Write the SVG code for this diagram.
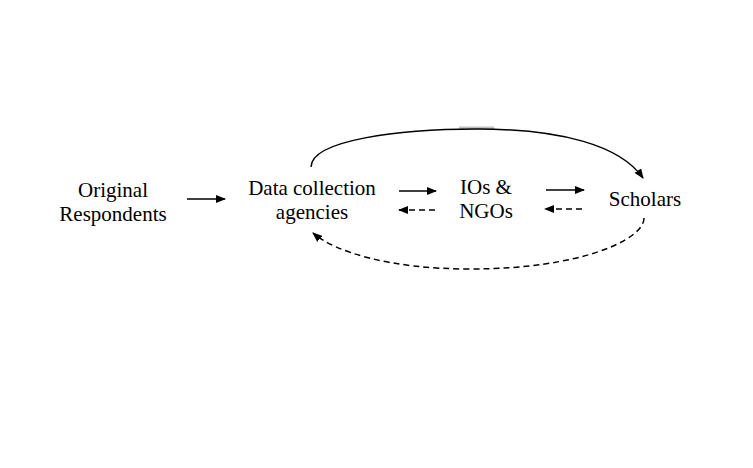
<svg xmlns="http://www.w3.org/2000/svg" width="753" height="468" viewBox="0 0 753 468">
<style>
.t{font-family:"Liberation Serif","Times New Roman",serif;font-size:21px;fill:#000;text-anchor:middle}
.s{fill:none;stroke:#000;stroke-width:1.5}
.d{fill:none;stroke:#000;stroke-width:1.5;stroke-dasharray:6,4}
</style>
<defs>
<marker id="ah" markerWidth="10" markerHeight="8" refX="9" refY="4" orient="auto" markerUnits="userSpaceOnUse">
<path d="M0,0 L10,4 L0,8 Z" fill="#000"/>
</marker>
</defs>
<rect width="753" height="468" fill="#fff"/>
<rect x="459" y="126.5" width="35" height="2.5" fill="#c0c0c0"/>
<g id="n-original"><text class="t" x="113" y="197">Original</text><text class="t" x="113" y="221">Respondents</text></g>
<g id="n-data"><text class="t" x="312" y="195">Data collection</text><text class="t" x="312" y="219">agencies</text></g>
<g id="n-ios"><text class="t" x="486" y="194">IOs &amp;</text><text class="t" x="486" y="218">NGOs</text></g>
<g id="n-scholars"><text class="t" x="645" y="206">Scholars</text></g>
<g id="connectors">
<line class="s" x1="187" y1="199" x2="225" y2="199" marker-end="url(#ah)"/>
<line class="s" x1="399" y1="191" x2="436" y2="191" marker-end="url(#ah)"/>
<line class="d" x1="435" y1="210" x2="399" y2="210" marker-end="url(#ah)"/>
<line class="s" x1="546" y1="190" x2="584" y2="190" marker-end="url(#ah)"/>
<line class="d" x1="582" y1="209" x2="545" y2="209" marker-end="url(#ah)"/>
<path class="s" d="M311,167 C311,140 400,129 477,129 C560,129 620,145 643,178" marker-end="url(#ah)"/>
<path class="d" d="M644,218 C644,240 580,269 470,269 C390,269 335,252 313,233" marker-end="url(#ah)"/>
</g>
</svg>
